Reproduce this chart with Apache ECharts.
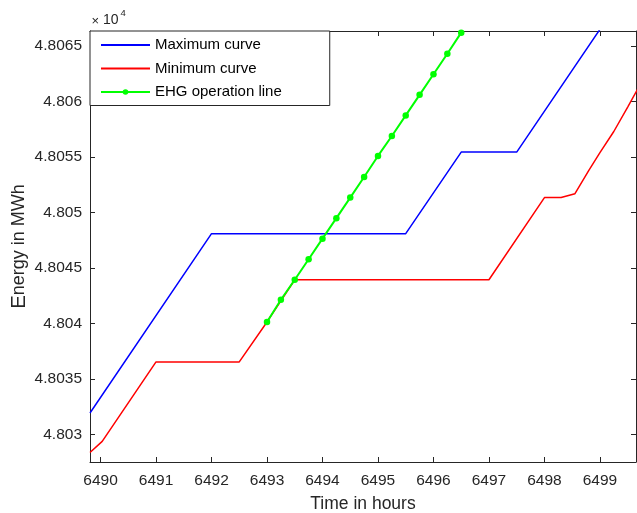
<!DOCTYPE html>
<html>
<head>
<meta charset="utf-8">
<script src="https://cdn.jsdelivr.net/npm/echarts@6/dist/echarts.min.js"></script>
<style>
html,body{margin:0;padding:0;background:#fff;}
#chart{width:637px;height:513px;}
</style>
</head>
<body>
<div id="chart"></div>
<script>
// ---- data (Energy in MWh, time in hours) ----
var blueT = [6489.81, 6492, 6495.5, 6496.5, 6497.5, 6499, 6499.7];
var blueV = [48031.95, 48048.1, 48048.1, 48055.45, 48055.45, 48066.5, 48071.6];

var redT = [6489.81, 6490.03, 6491, 6492.5, 6493, 6493.5, 6497, 6498, 6498.3, 6498.55, 6498.8, 6499, 6499.25, 6499.5, 6499.7];
var redV = [48028.4, 48029.4, 48036.55, 48036.55, 48040.15, 48043.95, 48043.95, 48051.35, 48051.35, 48051.7, 48053.8, 48055.4, 48057.3, 48059.5, 48061.3];

var greenT = [6493, 6493.25, 6493.5, 6493.75, 6494, 6494.25, 6494.5, 6494.75, 6495, 6495.25, 6495.5, 6495.75, 6496, 6496.25, 6496.5];
var greenV = [48040.15, 48042.15, 48043.95, 48045.8, 48047.65, 48049.5, 48051.35, 48053.2, 48055.1, 48056.9, 48058.75, 48060.6, 48062.45, 48064.3, 48066.2];

var xTicks = [6490, 6491, 6492, 6493, 6494, 6495, 6496, 6497, 6498, 6499];
var yTicks = [48030, 48035, 48040, 48045, 48050, 48055, 48060, 48065];
var yTickLabels = ['4.803', '4.8035', '4.804', '4.8045', '4.805', '4.8055', '4.806', '4.8065'];

var seriesNames = ['Maximum curve', 'Minimum curve', 'EHG operation line'];

function zip(t, v) { return t.map(function (x, i) { return [x, v[i]]; }); }

var FONT = "'Liberation Sans', Arial, Helvetica, sans-serif";
var AX = '#262626';

var xMin = 6489.81, xMax = 6499.65;
var yMin = 48027.54, yMax = 48066.35;

function xAxisBase(pos, showLabel) {
  return {
    type: 'value', position: pos, min: xMin, max: xMax,
    splitLine: { show: false },
    axisLine: { show: true, onZero: false, lineStyle: { color: AX, width: 1 } },
    axisTick: { show: true, inside: true, length: 5, customValues: xTicks, lineStyle: { color: AX } },
    axisLabel: {
      show: showLabel, customValues: xTicks, margin: 11,
      color: AX, fontSize: 15.5, fontFamily: FONT,
      formatter: function (v) { return String(Math.round(v)); }
    }
  };
}
function yAxisBase(pos, showLabel) {
  return {
    type: 'value', position: pos, min: yMin, max: yMax,
    splitLine: { show: false },
    axisLine: { show: true, onZero: false, lineStyle: { color: AX, width: 1 } },
    axisTick: { show: true, inside: true, length: 5, customValues: yTicks, lineStyle: { color: AX } },
    axisLabel: {
      show: showLabel, customValues: yTicks, margin: 8,
      color: AX, fontSize: 15.5, fontFamily: FONT,
      formatter: function (v) {
        var i = yTicks.indexOf(Math.round(v));
        return i >= 0 ? yTickLabels[i] : '';
      }
    }
  };
}

var xa0 = xAxisBase('bottom', true);
xa0.name = 'Time in hours';
xa0.nameLocation = 'middle';
xa0.nameGap = 33;
xa0.nameMoveOverlap = false;
xa0.nameTextStyle = { color: AX, fontSize: 17.5, fontFamily: FONT };
var xa1 = xAxisBase('top', false);

var ya0 = yAxisBase('left', true);
ya0.name = '{e|E}nergy in MWh';
ya0.nameLocation = 'middle';
ya0.nameGap = 60;
ya0.nameMoveOverlap = false;
ya0.nameTextStyle = { color: AX, fontSize: 18, fontFamily: FONT, rich: { e: { fontSize: 20.5, fontFamily: FONT, color: AX } } };
var ya1 = yAxisBase('right', false);

var chart = echarts.init(document.getElementById('chart'), null, { renderer: 'canvas' });
chart.setOption({
  animation: false,
  backgroundColor: '#ffffff',
  grid: { left: 90, top: 31, width: 546, height: 431, containLabel: false, outerBoundsMode: 'none' },
  xAxis: [xa0, xa1],
  yAxis: [ya0, ya1],
  legend: {
    orient: 'vertical', left: 90, top: 31,
    padding: [6.5, 48, 6, 10],
    itemWidth: 49, itemHeight: 7, itemGap: 8.5,
    backgroundColor: '#ffffff', borderColor: AX, borderWidth: 1,
    textStyle: { color: '#000', fontSize: 15, fontFamily: FONT, lineHeight: 14 },
    data: [
      { name: seriesNames[0], itemStyle: { opacity: 0 } },
      { name: seriesNames[1], itemStyle: { opacity: 0 } },
      { name: seriesNames[2] }
    ]
  },
  graphic: [
    { type: 'text', x: 91.5, y: 21, style: { text: '×', font: '13px ' + FONT, fill: AX, align: 'left', verticalAlign: 'middle' } },
    { type: 'text', x: 103, y: 20, style: { text: '10', font: '14px ' + FONT, fill: AX, align: 'left', verticalAlign: 'middle' } },
    { type: 'text', x: 120.5, y: 13.5, style: { text: '4', font: '9.5px ' + FONT, fill: AX, align: 'left', verticalAlign: 'middle' } }
  ],
  series: [
    {
      name: seriesNames[0], type: 'line', data: zip(blueT, blueV),
      symbol: 'none', showSymbol: false, clip: true,
      lineStyle: { color: '#0000ff', width: 1.5 }, itemStyle: { color: '#0000ff' }
    },
    {
      name: seriesNames[1], type: 'line', data: zip(redT, redV),
      symbol: 'none', showSymbol: false, clip: true,
      lineStyle: { color: '#ff0000', width: 1.5 }, itemStyle: { color: '#ff0000' }
    },
    {
      name: seriesNames[2], type: 'line', data: zip(greenT, greenV),
      symbol: 'circle', symbolSize: 6.5, showSymbol: true, clip: true,
      lineStyle: { color: '#00ff00', width: 2 }, itemStyle: { color: '#00ff00' }
    }
  ]
});
</script>
</body>
</html>
